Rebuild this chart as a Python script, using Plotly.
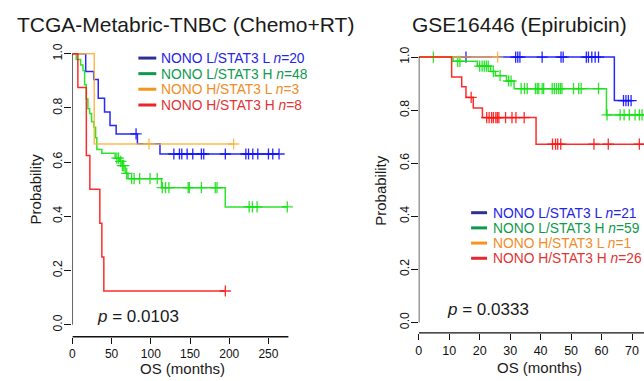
import plotly.graph_objects as go

W, H = 644, 381
FONT = "Liberation Sans, Arial, sans-serif"

# ---------------- Data: TCGA-Metabric-TNBC (Chemo+RT) ----------------
tcga_blue_times = [17.0, 27.2, 33.0, 41.0, 48.0, 55.8, 82.9, 111.7]
tcga_blue_surv = [0.934, 0.905, 0.836, 0.785, 0.735, 0.704, 0.668, 0.630]
tcga_blue_cens = [81.2, 129.4, 136.5, 139.5, 146.3, 153.5, 164.5, 167.5, 195.0,
                  221.2, 224.6, 230.0, 236.4, 250.0, 255.5, 263.5]

tcga_green_times = [5.0, 10.5, 13.5, 15.6, 17.7, 19.8, 22.0, 24.5, 27.5, 29.6,
                    31.2, 37.6, 54.6, 60.4, 63.5, 67.3, 71.0, 113.7, 194.9]
tcga_green_surv = [0.979, 0.958, 0.938, 0.885, 0.833, 0.797, 0.779, 0.749, 0.729, 0.690,
                   0.647, 0.633, 0.615, 0.603, 0.587, 0.559, 0.539, 0.506, 0.435]
tcga_green_cens = [56.7, 58.8, 61.7, 63.8, 65.5, 69.3, 75.6, 78.7, 85.8, 99.0, 108.2,
                   114.6, 118.8, 123.1, 147.6, 149.2, 164.5, 182.2, 184.4,
                   225.4, 229.5, 235.5, 274.0]

tcga_orange_times = [27.9]
tcga_orange_surv = [0.667]
tcga_orange_cens = [97.7, 205.6]

tcga_red_times = [7.0, 17.8, 22.3, 35.0, 37.6, 40.1]
tcga_red_surv = [0.875, 0.625, 0.500, 0.375, 0.250, 0.125]
tcga_red_cens = [195.0]

tcga_ends = [263.5, 274.0, 205.6, 195.0]
tcga_xticks = [0, 50, 100, 150, 200, 250]
tcga_labels = ["NONO L/STAT3 L <i>n</i>=20", "NONO L/STAT3 H <i>n</i>=48",
               "NONO H/STAT3 L <i>n</i>=3", "NONO H/STAT3 H <i>n</i>=8"]
tcga_p = "<i>p</i> = 0.0103"

# ---------------- Data: GSE16446 (Epirubicin) ----------------
gse_blue_times = [64.2]
gse_blue_surv = [0.836]
gse_blue_cens = [15.5, 31.8, 32.5, 33.2, 40.5, 46.7, 47.4, 55.0, 55.7, 56.8, 57.9, 59.0,
                 67.2, 68.0, 68.8, 69.7]

gse_green_times = [11.3, 19.2, 23.6, 25.2, 28.8, 31.3, 61.6]
gse_green_surv = [0.984, 0.966, 0.946, 0.930, 0.910, 0.881, 0.782]
gse_green_cens = [4.8, 12.8, 13.5, 20.0, 20.8, 21.5, 22.2, 22.8, 24.5, 26.7, 29.5, 30.3,
                  33.6, 34.7, 35.6, 38.3, 38.9, 39.4, 40.5, 41.0, 43.8, 44.5, 45.2,
                  45.9, 46.5, 47.0, 50.8, 52.5, 53.3, 59.0,
                  61.8, 66.1, 67.4, 69.1, 71.0, 72.4, 73.3]

gse_orange_times = []
gse_orange_surv = []
gse_orange_cens = [25.9]

gse_red_times = [10.8, 14.1, 15.5, 17.9, 20.9, 38.5]
gse_red_surv = [0.925, 0.888, 0.848, 0.808, 0.772, 0.672]
gse_red_cens = [17.2, 22.3, 23.1, 23.9, 24.5, 25.3, 25.8, 26.3, 28.5, 30.6, 31.9, 34.6,
                43.9, 44.9, 45.6, 46.6, 57.5, 62.2, 72.4]

gse_ends = [69.7, 76.0, 25.9, 76.0]
gse_xticks = [0, 10, 20, 30, 40, 50, 60, 70]
gse_labels = ["NONO L/STAT3 L <i>n</i>=21", "NONO L/STAT3 H <i>n</i>=59",
              "NONO H/STAT3 L <i>n</i>=1", "NONO H/STAT3 H <i>n</i>=26"]
gse_p = "<i>p</i> = 0.0333"

yticks = [0.0, 0.2, 0.4, 0.6, 0.8, 1.0]
ytick_text = ["0.0", "0.2", "0.4", "0.6", "0.8", "1.0"]

# ---------------- Styles ----------------
curve_colors = ["rgba(15,15,255,0.9)", "rgba(20,225,20,0.9)",
                "rgba(253,178,60,0.9)", "rgba(255,20,20,0.9)"]
swatch_colors = ["#2E3192", "#0E9A4B", "#F7941D", "#E8262B"]
text_colors = ["#2424E8", "#109A4E", "#F28C28", "#E23434"]


def px_x(x):
    return x / W


def px_y(y):
    return 1 - y / H


def surv_at(t, times, surv):
    s = 1.0
    for ti, si in zip(times, surv):
        if ti <= t:
            s = si
    return s


fig = go.Figure()

panels = [
    dict(xa="x", ya="y",
         series=[(tcga_blue_times, tcga_blue_surv, tcga_blue_cens),
                 (tcga_green_times, tcga_green_surv, tcga_green_cens),
                 (tcga_orange_times, tcga_orange_surv, tcga_orange_cens),
                 (tcga_red_times, tcga_red_surv, tcga_red_cens)],
         ends=tcga_ends),
    dict(xa="x2", ya="y2",
         series=[(gse_blue_times, gse_blue_surv, gse_blue_cens),
                 (gse_green_times, gse_green_surv, gse_green_cens),
                 (gse_orange_times, gse_orange_surv, gse_orange_cens),
                 (gse_red_times, gse_red_surv, gse_red_cens)],
         ends=gse_ends),
]

for p in panels:
    for (times, surv, cens), end, col in zip(p["series"], p["ends"], curve_colors):
        xs = [0.0] + list(times) + [end]
        ys = [1.0] + list(surv) + [surv[-1] if surv else 1.0]
        fig.add_trace(go.Scatter(x=xs, y=ys, mode="lines", line=dict(color=col, width=1.5, shape="hv"),
                                 xaxis=p["xa"], yaxis=p["ya"], showlegend=False, hoverinfo="skip"))
        fig.add_trace(go.Scatter(x=cens, y=[surv_at(t, times, surv) for t in cens], mode="markers",
                                 marker=dict(symbol="cross-thin", size=8, line=dict(color=col, width=1.3)),
                                 xaxis=p["xa"], yaxis=p["ya"], showlegend=False, cliponaxis=False,
                                 hoverinfo="skip"))

# ---------------- Axes geometry ----------------
L_x0, L_ppm, L_rmax = 69.7, 0.788, 282.0
L_y1, L_y0 = 50.0, 328.5
R_x0, R_ppm = 417.7, 3.061
R_rmax = (W - R_x0) / R_ppm
R_y1, R_y0 = 53.5, 326.0
YR = [-0.005, 1.02]


def ydomain(y1px, y0px):
    per = y0px - y1px
    top = y1px - (YR[1] - 1) * per
    bot = y0px + (0 - YR[0]) * per
    return [px_y(bot), px_y(top)]


common_x = dict(showgrid=False, zeroline=False, showline=False, ticks="outside", ticklen=6,
                tickwidth=1, tickcolor="#111", anchor="free")
common_y = dict(showgrid=False, zeroline=False, showline=False, ticks="outside", ticklen=7,
                tickwidth=1, tickcolor="#111", tickangle=-90, ticklabelstandoff=-3,
                tickvals=yticks, ticktext=ytick_text, range=YR,
                tickfont=dict(family=FONT, size=12.3, color="#111"))

L_xaxis_y = px_y(340.7)
R_xaxis_y = px_y(336.7)

fig.update_layout(
    xaxis=dict(common_x, domain=[px_x(L_x0), px_x(L_x0 + L_rmax * L_ppm)], range=[0, L_rmax],
               tickvals=tcga_xticks, position=L_xaxis_y,
               tickfont=dict(family=FONT, size=12, color="#111")),
    yaxis=dict(common_y, domain=ydomain(L_y1, L_y0), anchor="x"),
    xaxis2=dict(common_x, domain=[px_x(R_x0), 1.0], range=[0, R_rmax],
                tickvals=gse_xticks, position=R_xaxis_y,
                tickfont=dict(family=FONT, size=12.5, color="#111")),
    yaxis2=dict(common_y, domain=ydomain(R_y1, R_y0), anchor="x2"),
)

shapes = [
    dict(type="line", xref="x", yref="y", x0=0, x1=0, y0=0, y1=1, line=dict(color="#111", width=1.3)),
    dict(type="line", xref="x", yref="paper", x0=0, x1=275.4, y0=L_xaxis_y, y1=L_xaxis_y,
         line=dict(color="#111", width=1.3)),
    dict(type="line", xref="x2", yref="y2", x0=0, x1=0, y0=0, y1=1, line=dict(color="#111", width=1.3)),
    dict(type="line", xref="x2", yref="paper", x0=0, x1=R_rmax, y0=R_xaxis_y, y1=R_xaxis_y,
         line=dict(color="#111", width=1.3)),
]

annotations = []


def ann(text, x, y, size, color="#1a1a1a", xanchor="center", angle=0, pad=1):
    annotations.append(dict(text=text, x=px_x(x), y=px_y(y), xref="paper", yref="paper",
                            xanchor=xanchor, yanchor="middle", showarrow=False, textangle=angle,
                            borderpad=pad, font=dict(family=FONT, size=size, color=color)))


# titles
ann("TCGA-Metabric-TNBC (Chemo+RT)", 183.5, 19.7, 21)
ann("GSE16446 (Epirubicin)", 518.7, 19.7, 21)
# axis titles
ann("Probability", 32.5, 189.0, 15, angle=-90)
ann("Probability", 378.5, 190.0, 15, angle=-90)
ann("OS (months)", 180.3, 373.5, 15)
ann("OS (months)", 539.5, 372.0, 15)
# p-values
ann(tcga_p, 92.3, 319.5, 17, xanchor="left")
ann(gse_p, 443.7, 312.8, 17, xanchor="left")

# legends
legends = [
    dict(labels=tcga_labels, sx0=136.0, sx1=154.0, tx=157.5, rows=[55.0, 71.0, 87.0, 103.2], size=13.8),
    dict(labels=gse_labels, sx0=470.3, sx1=486.3, tx=491.5, rows=[213.8, 229.4, 245.0, 260.6], size=13.8),
]
for lg in legends:
    for lab, yrow, sc, tc in zip(lg["labels"], lg["rows"], swatch_colors, text_colors):
        shapes.append(dict(type="line", xref="paper", yref="paper", x0=px_x(lg["sx0"]), x1=px_x(lg["sx1"]),
                           y0=px_y(yrow - 0.5), y1=px_y(yrow - 0.5), line=dict(color=sc, width=3)))
        ann(lab, lg["tx"], yrow, lg["size"], color=tc, xanchor="left", pad=0)

fig.update_layout(
    width=W, height=H, margin=dict(l=0, r=0, t=0, b=0),
    paper_bgcolor="white", plot_bgcolor="white",
    shapes=shapes, annotations=annotations, showlegend=False,
    font=dict(family=FONT, color="#111"),
)

fig.write_html("out.html")
